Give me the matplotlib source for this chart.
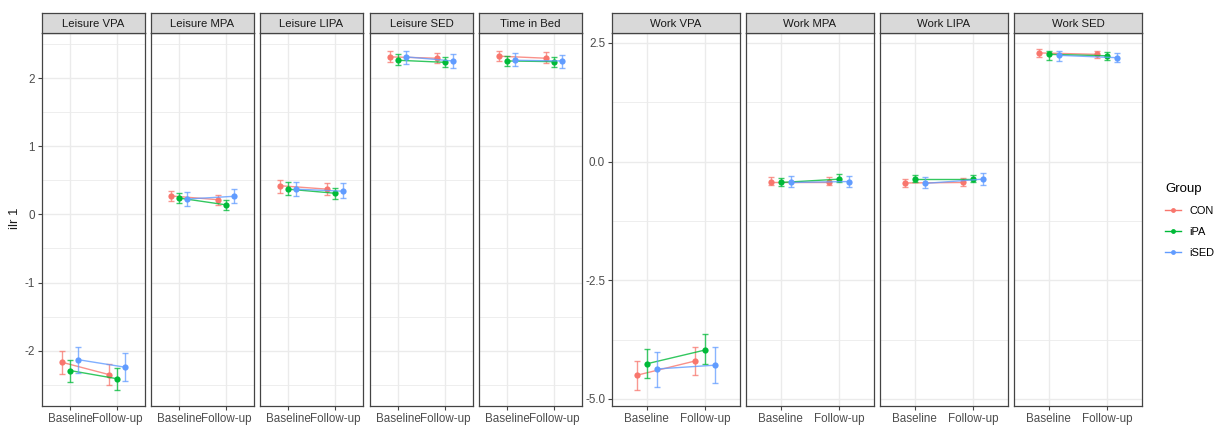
import matplotlib
matplotlib.use("Agg")
import matplotlib.pyplot as plt
from matplotlib.lines import Line2D
import numpy as np

plt.rcParams['font.family'] = ['Liberation Sans', 'DejaVu Sans']
plt.rcParams['axes.unicode_minus'] = False

# ---- data ----
panels = ["Leisure VPA", "Leisure MPA", "Leisure LIPA", "Leisure SED", "Time in Bed",
          "Work VPA", "Work MPA", "Work LIPA", "Work SED"]
times = ["Baseline", "Follow-up"]
groups = ["CON", "iPA", "iSED"]
colors = ["#F8766D", "#00BA38", "#619CFF"]

# (baseline, follow-up) per panel
con_mean = [(-2.17, -2.35), (0.27, 0.215), (0.42, 0.37), (2.31, 2.29), (2.32, 2.29),
            (-4.50, -4.20), (-0.42, -0.42), (-0.45, -0.44), (2.29, 2.26)]
con_low = [(-2.34, -2.50), (0.19, 0.14), (0.32, 0.28), (2.23, 2.22), (2.25, 2.22),
           (-4.82, -4.50), (-0.49, -0.50), (-0.54, -0.51), (2.20, 2.19)]
con_high = [(-2.01, -2.19), (0.35, 0.29), (0.51, 0.46), (2.39, 2.37), (2.39, 2.38),
            (-4.20, -3.90), (-0.33, -0.32), (-0.37, -0.35), (2.38, 2.34)]

ipa_mean = [(-2.29, -2.41), (0.24, 0.14), (0.37, 0.31), (2.26, 2.23), (2.25, 2.24),
            (-4.26, -3.97), (-0.44, -0.37), (-0.37, -0.37), (2.26, 2.23)]
ipa_low = [(-2.46, -2.58), (0.16, 0.06), (0.28, 0.22), (2.19, 2.16), (2.18, 2.16),
           (-4.56, -4.27), (-0.51, -0.44), (-0.44, -0.44), (2.15, 2.15)]
ipa_high = [(-2.13, -2.25), (0.32, 0.215), (0.47, 0.39), (2.35, 2.31), (2.33, 2.31),
            (-3.95, -3.64), (-0.35, -0.27), (-0.29, -0.29), (2.34, 2.31)]

ised_mean = [(-2.13, -2.24), (0.225, 0.265), (0.37, 0.34), (2.31, 2.25), (2.26, 2.25),
             (-4.37, -4.29), (-0.44, -0.42), (-0.46, -0.37), (2.24, 2.19)]
ised_low = [(-2.33, -2.45), (0.12, 0.17), (0.27, 0.235), (2.20, 2.15), (2.17, 2.15),
            (-4.75, -4.66), (-0.53, -0.54), (-0.55, -0.49), (2.13, 2.09)]
ised_high = [(-1.94, -2.04), (0.33, 0.37), (0.475, 0.46), (2.40, 2.35), (2.36, 2.34),
             (-4.01, -3.91), (-0.31, -0.30), (-0.33, -0.25), (2.34, 2.29)]

means = [con_mean, ipa_mean, ised_mean]
lows = [con_low, ipa_low, ised_low]
highs = [con_high, ipa_high, ised_high]

# ---- layout (pixels) ----
W, H = 1220, 426
PANEL_TOP, PANEL_BOT = 33, 406
STRIP_TOP = 13


def px_rect(x0, y0, x1, y1):
    return [x0 / W, (H - y1) / H, (x1 - x0) / W, (y1 - y0) / H]


left_x = [42, 151, 260, 370, 479]
left_w = 103
right_x = [612, 746, 880, 1014]
right_w = 128

fig = plt.figure(figsize=(W / 100, H / 100), dpi=100)

dodge = 0.5 / 3
border = "#444444"


def draw_panel(i, x0, w, ylim, major, minor, show_y):
    ax = fig.add_axes(px_rect(x0, PANEL_TOP, x0 + w, PANEL_BOT))
    ax.set_xlim(0.4, 2.6)
    ax.set_ylim(*ylim)
    ax.set_xticks([1, 2])
    ax.set_xticklabels(times)
    ax.set_yticks(major)
    ax.set_yticks(minor, minor=True)
    ax.grid(True, which='major', color='#EBEBEB', lw=1.0)
    ax.grid(True, which='minor', axis='y', color='#EBEBEB', lw=0.6)
    ax.set_axisbelow(True)
    ax.tick_params(which='major', length=3, width=0.8, color=border,
                   labelsize=8.4, labelcolor='#4D4D4D', pad=2)
    ax.tick_params(which='minor', length=0)
    if not show_y:
        ax.tick_params(axis='y', which='major', length=0, labelleft=False)
    for s in ax.spines.values():
        s.set_color(border)
        s.set_linewidth(0.9)

    for g in range(3):
        x = np.array([1, 2]) + (g - 1) * dodge
        m = np.array(means[g][i])
        lo = np.array(lows[g][i])
        hi = np.array(highs[g][i])
        ax.errorbar(x, m, yerr=[m - lo, hi - m], fmt='none', ecolor=colors[g],
                    elinewidth=1, capsize=2, capthick=1, alpha=0.75)
        ax.plot(x, m, color=colors[g], lw=1, alpha=0.8)
        ax.plot(x, m, 'o', color=colors[g], ms=4.5, mew=0)

    # strip
    sx = fig.add_axes(px_rect(x0, STRIP_TOP, x0 + w, PANEL_TOP))
    sx.set_facecolor('#D9D9D9')
    sx.set_xticks([])
    sx.set_yticks([])
    for s in sx.spines.values():
        s.set_color(border)
        s.set_linewidth(0.9)
    sx.text(0.5, 0.45, panels[i], ha='center', va='center', fontsize=8.2,
            color='#1A1A1A', transform=sx.transAxes)
    return ax


for k, x0 in enumerate(left_x):
    draw_panel(k, x0, left_w, (-2.81, 2.66), [-2, -1, 0, 1, 2],
               [-2.5, -1.5, -0.5, 0.5, 1.5, 2.5], k == 0)

for k, x0 in enumerate(right_x):
    ax = draw_panel(5 + k, x0, right_w, (-5.15, 2.71), [-5.0, -2.5, 0.0, 2.5],
                    [-3.75, -1.25, 1.25], k == 0)
    if k == 0:
        ax.set_yticklabels(["-5.0", "-2.5", "0.0", "2.5"])

fig.text(15 / W, 1 - 218 / H, "ilr 1", rotation=90, ha='center', va='center',
         fontsize=9.5, color='#1A1A1A')

handles = [Line2D([0], [0], color=c, lw=1, marker='o', ms=3.5, mew=0) for c in colors]
fig.legend(handles, groups, title="Group", loc='upper left',
           bbox_to_anchor=(1155 / W, 1 - 173 / H), frameon=False, fontsize=7.9,
           title_fontsize=9.5, handlelength=1.5, handletextpad=0.7,
           labelspacing=1.0, alignment='left')

fig.savefig("out.png", dpi=100)
